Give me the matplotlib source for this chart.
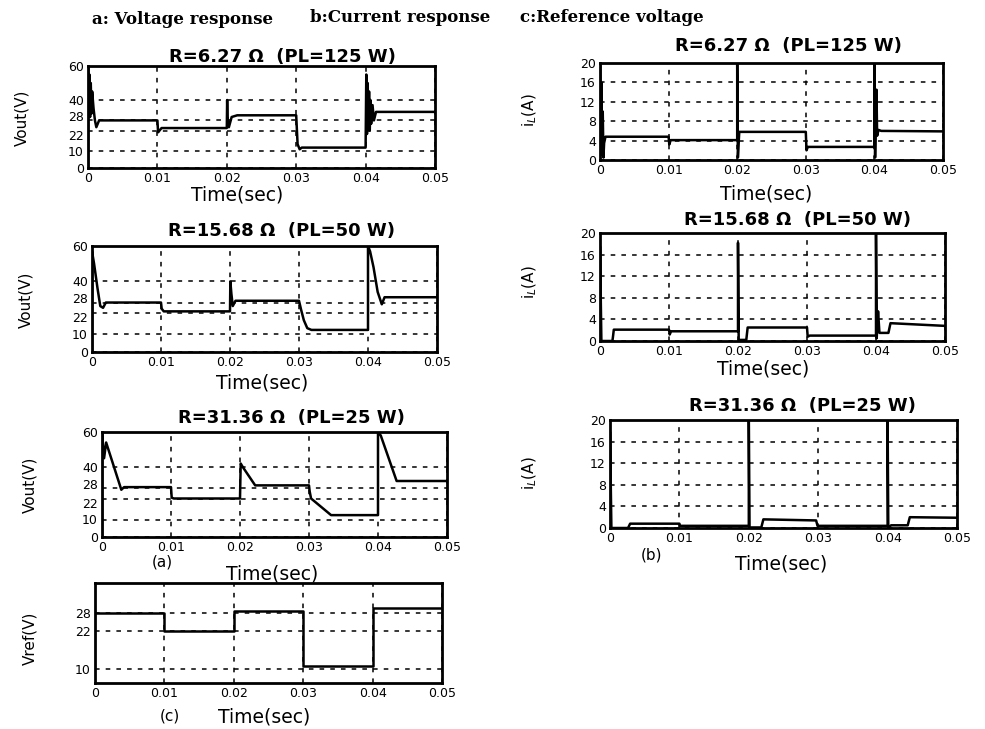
import matplotlib
matplotlib.use("Agg")
import matplotlib.pyplot as plt
from matplotlib.transforms import ScaledTranslation

W, H = 985, 729

# ticks shared by every panel
x_ticks = [0, 0.01, 0.02, 0.03, 0.04, 0.05]
x_tick_labels = ["0", "0.01", "0.02", "0.03", "0.04", "0.05"]
vout_ticks = [0, 10, 22, 28, 40, 60]
i_ticks = [0, 4, 8, 12, 16, 20]
vref_ticks = [10, 22, 28]

titles = ["R=6.27 \u03a9  (PL=125 W)",
          "R=15.68 \u03a9  (PL=50 W)",
          "R=31.36 \u03a9  (PL=25 W)"]

# (a) output voltage
t_v1 = [0, 0, 0.0001, 0.0002, 0.0003, 0.0004, 0.0005, 0.0006, 0.0008, 0.001, 0.0012, 0.0016,
        0.01, 0.0101, 0.0103, 0.0106, 0.02, 0.02005, 0.0201, 0.0203, 0.0207, 0.0215,
        0.03, 0.0302, 0.0305, 0.0308, 0.04, 0.0401, 0.0402, 0.0403, 0.0404, 0.0405,
        0.0406, 0.0407, 0.0408, 0.041, 0.0412, 0.0415, 0.042, 0.05]
v_v1 = [0, 60, 35, 55, 30, 50, 32, 45, 35, 28, 24, 28,
        28, 21, 22, 23.5, 23.5, 40, 30, 24, 30, 31,
        31, 14, 11, 12, 12, 55, 20, 50, 25, 45,
        22, 40, 26, 37, 28, 33, 33, 33]

t_v2 = [0, 0, 0.0003, 0.0008, 0.0012, 0.0016, 0.002, 0.01, 0.0101, 0.0104,
        0.02, 0.02005, 0.0202, 0.0204, 0.0208, 0.03, 0.0303, 0.0307, 0.0312, 0.0318,
        0.04, 0.04, 0.0403, 0.0408, 0.0414, 0.042, 0.0424, 0.05]
v_v2 = [0, 57, 50, 36, 26, 25, 28, 28, 24.5, 23,
        23, 40, 33, 26, 29, 29, 24, 18, 13.5, 12.5,
        12.5, 60, 57, 48, 34, 27, 31, 31]

t_v3 = [0, 0, 0.0003, 0.0006, 0.0028, 0.0032, 0.01, 0.0101, 0.0104,
        0.02, 0.0201, 0.0204, 0.0222, 0.03, 0.0301, 0.0303, 0.0332,
        0.04, 0.04, 0.0404, 0.0427, 0.0432, 0.05]
v_v3 = [0, 60, 45, 54, 27, 28.5, 28.5, 22.5, 22,
        22, 42, 40, 29.5, 29.5, 26, 22, 12.5,
        12.5, 60, 58, 32, 32, 32]

# (b) inductor current
t_i1 = [0, 0, 0.0001, 0.0002, 0.0003, 0.0004, 0.0005, 0.0006, 0.0008, 0.01, 0.0101, 0.0103,
        0.02, 0.02, 0.0201, 0.0203, 0.03, 0.0301, 0.0303, 0.04, 0.04, 0.0401, 0.0403,
        0.0404, 0.0406, 0.041, 0.05]
v_i1 = [0, 19.5, 2, 16, 1, 10, 0.5, 3.5, 4.8, 4.8, 3.2, 4.1,
        4.1, 20, 0.5, 5.8, 5.8, 2.0, 2.7, 2.7, 20, 0.5, 14.5,
        5, 6.2, 6.0, 5.9]

t_i2 = [0, 0, 0.0002, 0.0018, 0.0019, 0.002, 0.01, 0.0101, 0.0103, 0.02, 0.02, 0.0201,
        0.0212, 0.0214, 0.03, 0.0301, 0.0304, 0.04, 0.04, 0.0401, 0.0403, 0.0405,
        0.0418, 0.0421, 0.05]
v_i2 = [0, 17.5, 0, 0, 1.0, 2.1, 2.1, 1.2, 1.8, 1.8, 18.2, 0.2,
        0.2, 2.5, 2.5, 0.8, 1.0, 1.0, 20, 0.5, 5.5, 1.5,
        1.5, 3.3, 2.8]

t_i3 = [0, 0, 0.0002, 0.0026, 0.0029, 0.01, 0.0101, 0.02, 0.02, 0.0201, 0.0218, 0.0221,
        0.0297, 0.0299, 0.04, 0.04, 0.0401, 0.0405, 0.0429, 0.0432, 0.05]
v_i3 = [0, 17.8, 0, 0, 0.8, 0.8, 0.4, 0.4, 20, 0.1, 0.1, 1.6,
        1.4, 0.4, 0.4, 20, 0, 0.5, 0.5, 2.0, 1.9]

# (c) reference voltage steps
t_ref = [0, 0.01, 0.02, 0.03, 0.04, 0.05]
v_ref = [28, 22, 28.5, 11, 29.5, 29.5]

plt.rcParams["font.family"] = ["DejaVu Sans"]
fig = plt.figure(figsize=(W / 100, H / 100), dpi=100)


def box(l, t, r, b):
    return [l / W, 1 - b / H, (r - l) / W, (b - t) / H]


def put(x, y, s, **kw):
    fig.text(x / W, 1 - y / H, s, ha="center", va="center", **kw)


def panel(rect, t, v, ylim, yticks, step=False):
    ax = fig.add_axes(box(*rect))
    if step:
        ax.plot(t, v, color="black", lw=1.8, drawstyle="steps-post")
    else:
        ax.plot(t, v, color="black", lw=1.8)
    ax.set_xlim(0, 0.05)
    ax.set_ylim(*ylim)
    ax.set_xticks(x_ticks)
    ax.set_xticklabels(x_tick_labels)
    ax.set_yticks(yticks)
    ax.grid(True, color="black", linestyle=(0, (3, 4)), linewidth=1.1)
    for sp in ax.spines.values():
        sp.set_linewidth(2)
    ax.tick_params(direction="in", length=0, labelsize=9, pad=3)
    return ax


def spread_22_28(ax):
    # the 22 and 28 labels sit close together; push them apart a little
    for lab in ax.get_yticklabels():
        if lab.get_text() == "28":
            lab.set_transform(lab.get_transform() + ScaledTranslation(0, 3 / 72, fig.dpi_scale_trans))
        elif lab.get_text() == "22":
            lab.set_transform(lab.get_transform() + ScaledTranslation(0, -3 / 72, fig.dpi_scale_trans))


# headings
serif = dict(family="DejaVu Serif", fontweight="bold", fontsize=12)
put(183, 19, "a: Voltage response", **serif)
put(400, 17, "b:Current response", **serif)
put(612, 17, "c:Reference voltage", **serif)

tkw = dict(fontsize=13, fontweight="bold")
lkw = dict(fontsize=13.5)
ykw = dict(fontsize=11, rotation=90)

# left column: voltage
ax = panel((88, 66, 435, 168), t_v1, v_v1, (0, 60), vout_ticks)
spread_22_28(ax)
put(282, 57, titles[0], **tkw)
put(237, 195, "Time(sec)", **lkw)
put(22, 118, "Vout(V)", **ykw)

ax = panel((92, 246, 437, 352), t_v2, v_v2, (0, 60), vout_ticks)
spread_22_28(ax)
put(282, 231, titles[1], **tkw)
put(262, 383, "Time(sec)", **lkw)
put(26, 300, "Vout(V)", **ykw)

ax = panel((102, 432, 447, 537), t_v3, v_v3, (0, 60), vout_ticks)
spread_22_28(ax)
put(291, 418, titles[2], **tkw)
put(162, 562, "(a)", fontsize=11)
put(272, 574, "Time(sec)", **lkw)
put(30, 485, "Vout(V)", **ykw)

panel((95, 583, 442, 683), t_ref, v_ref, (5.5, 37.5), vref_ticks, step=True)
put(170, 716, "(c)", fontsize=11)
put(264, 717, "Time(sec)", **lkw)
put(30, 638, "Vref(V)", **ykw)

# right column: current
panel((600, 63, 943, 160), t_i1, v_i1, (0, 20), i_ticks)
put(788, 46, titles[0], **tkw)
put(766, 194, "Time(sec)", **lkw)
put(530, 110, "i$_L$(A)", **ykw)

panel((600, 233, 945, 341), t_i2, v_i2, (0, 20), i_ticks)
put(797, 220, titles[1], **tkw)
put(763, 369, "Time(sec)", **lkw)
put(530, 282, "i$_L$(A)", **ykw)

panel((610, 420, 957, 528), t_i3, v_i3, (0, 20), i_ticks)
put(802, 406, titles[2], **tkw)
put(652, 555, "(b)", fontsize=11)
put(781, 564, "Time(sec)", **lkw)
put(530, 473, "i$_L$(A)", **ykw)

fig.savefig("out.png", dpi=100, facecolor="white")
